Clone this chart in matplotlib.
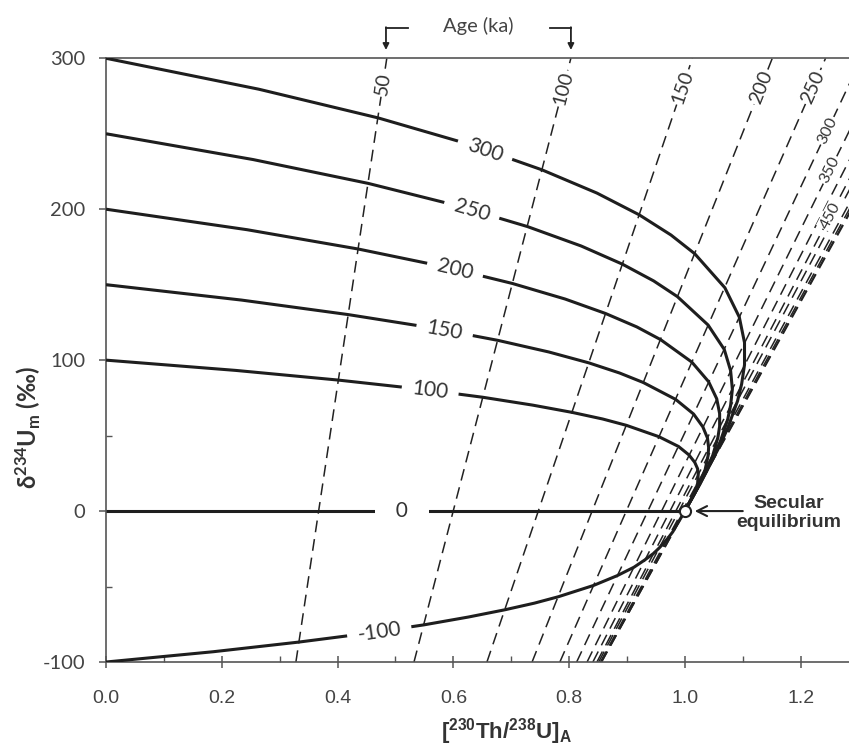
import numpy as np
import matplotlib
matplotlib.use("Agg")
import matplotlib.pyplot as plt
from matplotlib.ticker import MultipleLocator, FormatStrFormatter

plt.rcParams['lines.scale_dashes'] = False
plt.rcParams['axes.unicode_minus'] = False
plt.rcParams['mathtext.default'] = 'regular'

NARROW = ['Liberation Sans Narrow', 'Liberation Sans', 'DejaVu Sans']
BODY = ['Lato', 'DejaVu Sans']

# initial d234U trajectories
initial_d234u = [300, 250, 200, 150, 100, 0, -100]
traj_x = [
    [0, 0.264, 0.470, 0.630, 0.753, 0.848, 0.921, 0.976, 1.017, 1.069, 1.094, 1.103,
     1.103, 1.098, 1.091, 1.074, 1.058, 1.044, 1.026, 1.006, 1.0],
    [0, 0.254, 0.453, 0.607, 0.728, 0.821, 0.892, 0.946, 0.987, 1.040, 1.068, 1.079,
     1.082, 1.079, 1.074, 1.061, 1.048, 1.037, 1.021, 1.005, 1.0],
    [0, 0.244, 0.436, 0.585, 0.702, 0.793, 0.863, 0.917, 0.958, 1.012, 1.041, 1.055,
     1.060, 1.060, 1.057, 1.048, 1.038, 1.029, 1.017, 1.004, 1.0],
    [0, 0.234, 0.418, 0.563, 0.677, 0.765, 0.834, 0.887, 0.928, 0.984, 1.015, 1.031,
     1.039, 1.041, 1.040, 1.035, 1.028, 1.022, 1.013, 1.003, 1.0],
    [0, 0.224, 0.401, 0.541, 0.651, 0.737, 0.805, 0.858, 0.899, 0.955, 0.989, 1.007,
     1.017, 1.022, 1.023, 1.022, 1.018, 1.014, 1.008, 1.002, 1.0],
    [0, 1.0],
    [0, 0.185, 0.333, 0.453, 0.549, 0.626, 0.689, 0.740, 0.781, 0.842, 0.883, 0.912,
     0.931, 0.946, 0.956, 0.970, 0.979, 0.984, 0.991, 0.998, 1.0],
]
traj_y = [
    [300, 279.5, 260.5, 242.7, 226.1, 210.7, 196.3, 182.9, 170.5, 148.0, 128.5, 111.6,
     96.9, 84.1, 73.0, 55.0, 41.5, 31.3, 17.8, 4.3, 0],
    [250, 232.9, 217.1, 202.3, 188.5, 175.6, 163.6, 152.5, 142.1, 123.3, 107.1, 93.0,
     80.7, 70.1, 60.8, 45.9, 34.6, 26.1, 14.8, 3.6, 0],
    [200, 186.4, 173.6, 161.8, 150.8, 140.5, 130.9, 122.0, 113.6, 98.7, 85.7, 74.4,
     64.6, 56.1, 48.7, 36.7, 27.7, 20.9, 11.8, 2.9, 0],
    [150, 139.8, 130.2, 121.4, 113.1, 105.4, 98.2, 91.5, 85.2, 74.0, 64.3, 55.8,
     48.4, 42.1, 36.5, 27.5, 20.7, 15.6, 8.9, 2.2, 0],
    [100, 93.2, 86.8, 80.9, 75.4, 70.2, 65.4, 61.0, 56.8, 49.3, 42.8, 37.2,
     32.3, 28.0, 24.3, 18.3, 13.8, 10.4, 5.9, 1.4, 0],
    [0, 0],
    [-100, -93.2, -86.8, -80.9, -75.4, -70.2, -65.4, -61.0, -56.8, -49.3, -42.8, -37.2,
     -32.3, -28.0, -24.3, -18.3, -13.8, -10.4, -5.9, -1.4, 0],
]
traj_label_x = [0.655, 0.632, 0.603, 0.585, 0.560, 0.511, 0.472]

# isochrons (ka): x where each dashed line meets d234U = -100 and +300
iso_ages = [50, 100, 150, 200, 250, 300, 350, 400, 450, 500, 600, 700, 800, 1000]
iso_x_low = [0.328, 0.532, 0.658, 0.736, 0.784, 0.813, 0.831, 0.841, 0.848, 0.851,
             0.854, 0.855, 0.856, 0.856]
iso_x_high = [0.485, 0.803, 1.013, 1.151, 1.243, 1.305, 1.346, 1.374, 1.393, 1.405,
              1.420, 1.427, 1.431, 1.433]
iso_labelled = [50, 100, 150, 200, 250, 300, 350, 450]
iso_label_d = [283, 280, 281, 281, 281, 252, 226, 196]

fig = plt.figure(figsize=(8.49, 7.51), dpi=100)
ax = fig.add_axes([0.1249, 0.1185, 0.8751, 0.8039])
ax.set_xlim(0, 1.2835)
ax.set_ylim(-100, 300)

for xl, xh in zip(iso_x_low, iso_x_high):
    ax.plot([xl, xh], [-100, 300], color='#222222', lw=1.1,
            linestyle=(0, (8.5, 5)), zorder=2)

for xs, ys in zip(traj_x, traj_y):
    ax.plot(xs, ys, color='#1e1e1e', lw=2.2, solid_capstyle='butt',
            solid_joinstyle='round', zorder=3)

ax.plot(1.0, 0, 'o', mfc='white', mec='#222222', ms=8, mew=1.5, zorder=6)

# curve labels, sitting on the curves
for d0, xs, ys, lx in zip(initial_d234u, traj_x, traj_y, traj_label_x):
    n = int(np.argmax(xs)) + 1
    ly = np.interp(lx, xs[:n], ys[:n])
    p1 = ax.transData.transform((lx - 0.03, np.interp(lx - 0.03, xs[:n], ys[:n])))
    p2 = ax.transData.transform((lx + 0.03, np.interp(lx + 0.03, xs[:n], ys[:n])))
    ang = np.degrees(np.arctan2(p2[1] - p1[1], p2[0] - p1[0]))
    txt = '  0  ' if d0 == 0 else str(d0)
    ax.text(lx, ly, txt, rotation=ang, rotation_mode='anchor', ha='center', va='center',
            fontsize=15, family=BODY, color='#333333', zorder=5,
            bbox=dict(boxstyle='square', pad=0.5, fc='white', ec='none'))

# isochron labels
for age, dl in zip(iso_labelled, iso_label_d):
    i = iso_ages.index(age)
    xl, xh = iso_x_low[i], iso_x_high[i]
    lx = xl + (xh - xl) * (dl + 100) / 400
    p1 = ax.transData.transform((xl, -100))
    p2 = ax.transData.transform((xh, 300))
    ang = np.degrees(np.arctan2(p2[1] - p1[1], p2[0] - p1[0]))
    fs = 14 if age <= 250 else 11.5
    ax.text(lx, dl, str(age), rotation=ang, rotation_mode='anchor', ha='center',
            va='center', fontsize=fs, family=BODY, color='#333333', zorder=5,
            bbox=dict(boxstyle='square', pad=0.08, fc='white', ec='none'))

# Age (ka) header with bracket arrows
fig.text(478 / 849, 1 - 26 / 751, 'Age (ka)', ha='center', va='center',
         fontsize=14.5, family=BODY, color='#444444')
ax.plot([0.5216, 0.4836], [320, 320], color='#222222', lw=1.3, clip_on=False)
ax.annotate('', xy=(0.4836, 305.5), xytext=(0.4836, 320.6), annotation_clip=False,
            arrowprops=dict(arrowstyle='-|>', lw=1.3, color='#222222',
                            mutation_scale=9, shrinkA=0, shrinkB=0))
ax.plot([0.7668, 0.8031], [320, 320], color='#222222', lw=1.3, clip_on=False)
ax.annotate('', xy=(0.8031, 305.5), xytext=(0.8031, 320.6), annotation_clip=False,
            arrowprops=dict(arrowstyle='-|>', lw=1.3, color='#222222',
                            mutation_scale=9, shrinkA=0, shrinkB=0))

# secular equilibrium note
ax.annotate('', xy=(1.017, 0), xytext=(1.100, 0),
            arrowprops=dict(arrowstyle='->', lw=1.5, color='#222222',
                            mutation_scale=18, shrinkA=0, shrinkB=0))
ax.text(1.180, -1, 'Secular\nequilibrium', ha='center', va='center', fontsize=14,
        fontweight='bold', family=NARROW, color='#333333', linespacing=1.15)

# axes styling
for side in ['left', 'bottom', 'top']:
    ax.spines[side].set_color('#555555')
    ax.spines[side].set_linewidth(1.2)
ax.spines['right'].set_visible(False)

ax.set_yticks([-100, 0, 100, 200, 300])
ax.yaxis.set_minor_locator(MultipleLocator(50))
ax.xaxis.set_major_locator(MultipleLocator(0.2))
ax.xaxis.set_minor_locator(MultipleLocator(0.1))
ax.xaxis.set_major_formatter(FormatStrFormatter('%.1f'))
ax.tick_params(axis='y', which='major', direction='out', length=5, width=1.1,
               pad=10, labelsize=14.5, labelcolor='#444444', color='#555555')
ax.tick_params(axis='y', which='minor', direction='in', length=4, width=1,
               color='#555555')
ax.tick_params(axis='x', which='major', direction='inout', length=9, width=1.1,
               pad=16, labelsize=14, labelcolor='#444444', color='#555555')
ax.tick_params(axis='x', which='minor', direction='in', length=4, width=1,
               color='#555555')
for lab in ax.get_yticklabels():
    lab.set_family(BODY)
for lab in ax.get_xticklabels():
    lab.set_family(NARROW)

fig.text(506 / 849, 1 - 732 / 751, '[$^{230}$Th/$^{238}$U]$_A$', ha='center',
         va='center', fontsize=16, fontweight='bold', family=NARROW, color='#333333')
fig.text(28 / 849, 1 - 428 / 751, 'δ$^{234}$U$_m$ (‰)', ha='center', va='center',
         rotation=90, fontsize=17, fontweight='bold', family=BODY, color='#333333')

fig.savefig('out.png', dpi=100)
